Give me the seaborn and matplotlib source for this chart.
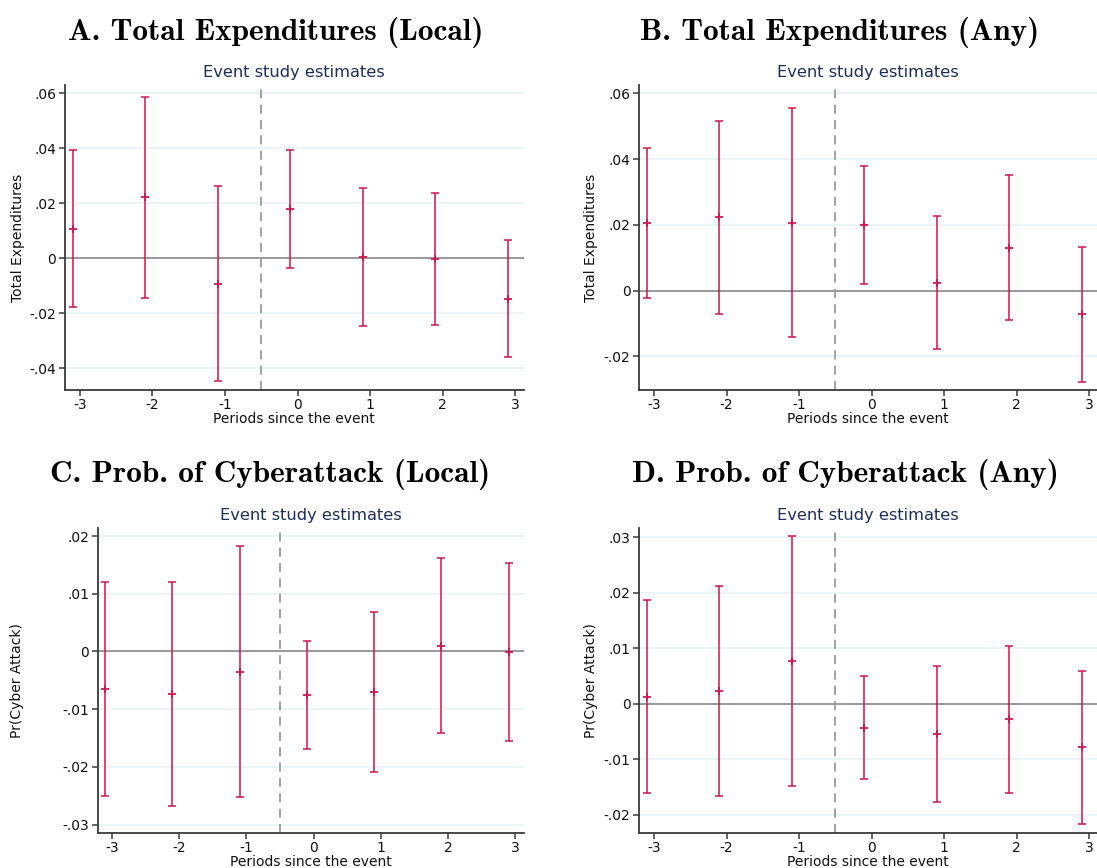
import numpy as np
import pandas as pd
import matplotlib
matplotlib.use("Agg")
import matplotlib.pyplot as plt
from matplotlib.ticker import FuncFormatter
import seaborn as sns

# Event-time periods and estimates (point, lower CI, upper CI) for each outcome
periods = [-3, -2, -1, 0, 1, 2, 3]

exp_local_est = [0.0107, 0.0222, -0.0093, 0.0179, 0.0005, -0.0002, -0.0147]
exp_local_lo = [-0.0178, -0.0144, -0.0448, -0.0035, -0.0246, -0.0242, -0.0360]
exp_local_hi = [0.0393, 0.0585, 0.0261, 0.0394, 0.0257, 0.0239, 0.0067]

exp_any_est = [0.0206, 0.0223, 0.0207, 0.0200, 0.0023, 0.0131, -0.0071]
exp_any_lo = [-0.0021, -0.0072, -0.0141, 0.0020, -0.0178, -0.0090, -0.0277]
exp_any_hi = [0.0433, 0.0517, 0.0556, 0.0379, 0.0226, 0.0352, 0.0134]

cyber_local_est = [-0.0065, -0.0074, -0.0035, -0.0075, -0.0071, 0.0010, -0.0001]
cyber_local_lo = [-0.0250, -0.0267, -0.0252, -0.0169, -0.0209, -0.0142, -0.0155]
cyber_local_hi = [0.0121, 0.0120, 0.0183, 0.0019, 0.0068, 0.0162, 0.0154]

cyber_any_est = [0.0013, 0.0023, 0.0077, -0.0043, -0.0055, -0.0028, -0.0078]
cyber_any_lo = [-0.0161, -0.0165, -0.0148, -0.0136, -0.0176, -0.0161, -0.0216]
cyber_any_hi = [0.0188, 0.0212, 0.0302, 0.0051, 0.0068, 0.0104, 0.0060]

panel_titles = [
    "A. Total Expenditures (Local)",
    "B. Total Expenditures (Any)",
    "C. Prob. of Cyberattack (Local)",
    "D. Prob. of Cyberattack (Any)",
]
ylabels = ["Total Expenditures", "Total Expenditures",
           "Pr(Cyber Attack)", "Pr(Cyber Attack)"]
yticks = [
    [-0.04, -0.02, 0, 0.02, 0.04, 0.06],
    [-0.02, 0, 0.02, 0.04, 0.06],
    [-0.03, -0.02, -0.01, 0, 0.01, 0.02],
    [-0.02, -0.01, 0, 0.01, 0.02, 0.03],
]
ylims = [(-0.0479, 0.0630), (-0.0302, 0.0625), (-0.0314, 0.0214), (-0.0232, 0.0317)]

series = [
    (exp_local_est, exp_local_lo, exp_local_hi),
    (exp_any_est, exp_any_lo, exp_any_hi),
    (cyber_local_est, cyber_local_lo, cyber_local_hi),
    (cyber_any_est, cyber_any_lo, cyber_any_hi),
]

sns.set_theme(style="white")
plt.rcParams["font.family"] = ["DejaVu Sans"]

W, H = 1097, 868
fig = plt.figure(figsize=(W / 100, H / 100), dpi=100)

# axes rectangles in pixel units: left, right, top, bottom
rects_px = [
    (64.7, 524.0, 85.0, 390.0),
    (638.8, 1097.0, 85.0, 390.0),
    (97.5, 524.0, 528.0, 832.7),
    (638.8, 1097.0, 528.0, 832.7),
]
xlims = [(-3.21, 3.12), (-3.21, 3.11), (-3.215, 3.13), (-3.21, 3.11)]
ylabel_x = [-0.0864, -0.088, -0.172, -0.088]
title_pos = [(276, 39.5), (839.5, 39.5), (270, 481.7), (845, 481.7)]

bar_color = "#d3164b"
spine_color = "#3a3a3a"


def tick_fmt(v, pos):
    if abs(v) < 1e-12:
        return "0"
    s = f"{v:.2f}".rstrip("0")
    return s.replace("0.", ".")


for i in range(4):
    l, r, t, b = rects_px[i]
    ax = fig.add_axes([l / W, 1 - b / H, (r - l) / W, (b - t) / H])
    est, lo, hi = series[i]
    df = pd.DataFrame({"period": periods, "est": est, "lo": lo, "hi": hi})
    df["xpos"] = df["period"] - 0.1

    for yt in yticks[i]:
        ax.axhline(yt, color="#e9f1f3", lw=1.2, zorder=0)
    ax.axhline(0, color="#8a8a8a", lw=1.2, zorder=1)
    ax.axvline(-0.5, color="#9a9a9a", lw=1.3, ls=(0, (5, 3.5)), zorder=1)

    ax.errorbar(df["xpos"], df["est"],
                yerr=[df["est"] - df["lo"], df["hi"] - df["est"]],
                fmt="none", ecolor=bar_color, elinewidth=1.4,
                capsize=3.2, capthick=1.4, alpha=0.8, zorder=3)
    sns.scatterplot(data=df, x="xpos", y="est", marker="+", s=30,
                    color=bar_color, linewidth=1.3, ax=ax, zorder=4,
                    legend=False)

    ax.set_xlim(*xlims[i])
    ax.set_ylim(*ylims[i])
    ax.set_xticks(periods)
    ax.set_xticklabels([str(p) for p in periods])
    ax.set_yticks(yticks[i])
    ax.yaxis.set_major_formatter(FuncFormatter(tick_fmt))

    for side in ["top", "right"]:
        ax.spines[side].set_visible(False)
    for side in ["left", "bottom"]:
        ax.spines[side].set_color(spine_color)
        ax.spines[side].set_linewidth(1.3)
    ax.tick_params(axis="both", which="major", direction="out", length=4,
                   width=1.1, color=spine_color, labelsize=10,
                   labelcolor="#111111", pad=2,
                   bottom=True, left=True)

    ax.set_xlabel("Periods since the event", fontsize=10, color="#111111",
                  labelpad=0)
    ax.set_ylabel(ylabels[i], fontsize=10, color="#111111")
    ax.yaxis.set_label_coords(ylabel_x[i], 0.5)
    ax.set_title("Event study estimates", fontsize=11.7, color="#1c2f5c",
                 pad=6)

    tx, ty = title_pos[i]
    fig.text(tx / W, 1 - ty / H, panel_titles[i], ha="center",
             va="baseline", fontsize=22.5, family="cmb10", color="black")

fig.savefig("out.png", dpi=100)
